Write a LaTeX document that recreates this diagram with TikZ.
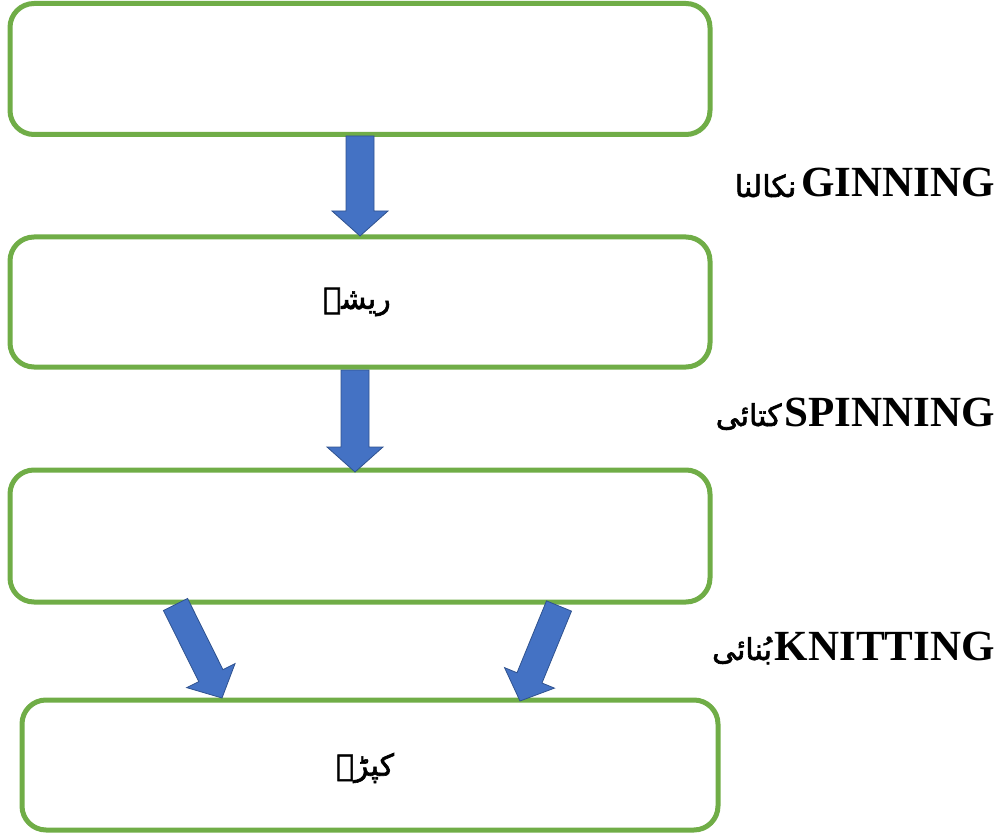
\documentclass[tikz,border=0pt]{standalone}
\usepackage{fontspec}
\setmainfont{Liberation Serif}
\newfontfamily\urdu[Script=Arabic, BoldFont={DejaVu Sans}, BoldFeatures={FakeBold=2}]{DejaVu Sans}
\TeXXeTstate=1
\usetikzlibrary{calc}
\definecolor{boxgreen}{HTML}{70AD47}
\definecolor{arrowblue}{HTML}{4472C4}
\definecolor{arrowedge}{HTML}{2F528F}
\tikzset{
  stagebox/.style={draw=boxgreen, line width=5pt, rounded corners=24pt, fill=white, inner sep=0pt},
  blockarrow/.style={fill=arrowblue, draw=arrowedge, line width=0.8pt, line join=miter},
  steplabel/.style={anchor=base east, inner sep=0pt, font=\bfseries\fontsize{43}{46}\selectfont},
  urdutext/.style={inner sep=0pt, font=\urdu\bfseries\fontsize{30}{36}\selectfont}
}
\newcommand{\blockarr}[4]{% tail, tip, half shaft, half head ; head length fixed
  \path[blockarrow]
    ($(#1)!#3!90:(#2)$) --
    ($($(#2)!25pt!(#1)$)!#3!90:(#2)$) --
    ($($(#2)!25pt!(#1)$)!#4!90:(#2)$) --
    (#2) --
    ($($(#2)!25pt!(#1)$)!#4!-90:(#2)$) --
    ($($(#2)!25pt!(#1)$)!#3!-90:(#2)$) --
    ($(#1)!#3!-90:(#2)$) -- cycle;
}
\begin{document}
\begin{tikzpicture}[x=1pt,y=-1pt]
\useasboundingbox (0,0) rectangle (1004,834);
% boxes
\node[stagebox, minimum width=700pt, minimum height=131pt] (b1) at (360,69) {};
\node[stagebox, minimum width=700pt, minimum height=130pt] (b2) at (360,302) {};
\node[stagebox, minimum width=700pt, minimum height=132pt] (b3) at (360,536) {};
\node[stagebox, minimum width=696pt, minimum height=130pt] (b4) at (370,765) {};
% box texts
\node[urdutext] (t2) at (357,302) {\beginR ریشے\endR};
\node[urdutext] (t4) at (365,768) {\beginR کپڑے\endR};
% arrow anchors
\coordinate (a1s) at (360,136);
\coordinate (a1e) at (360,236);
\coordinate (a2s) at (355,370);
\coordinate (a2e) at (355,472);
\coordinate (a3s) at (175.5,604.5);
\coordinate (a3e) at (222,698);
\coordinate (a4s) at (559,606);
\coordinate (a4e) at (520,701);
\blockarr{a1s}{a1e}{14pt}{28pt}
\blockarr{a2s}{a2e}{14pt}{28pt}
\blockarr{a3s}{a3e}{13.5pt}{27pt}
\blockarr{a4s}{a4e}{13.5pt}{27pt}
% labels
\node[steplabel] (l1) at (995,197) {{\urdu\fontsize{30}{36}\selectfont\beginR نکالنا\endR}\hspace{5pt}GINNING};
\node[steplabel] (l2) at (995,426) {{\urdu\fontsize{30}{36}\selectfont\beginR کتائی\endR}\hspace{3pt}SPINNING};
\node[steplabel] (l3) at (995,660) {{\urdu\fontsize{30}{36}\selectfont\beginR بُنائی\endR}\hspace{3pt}KNITTING};
\end{tikzpicture}
\end{document}
